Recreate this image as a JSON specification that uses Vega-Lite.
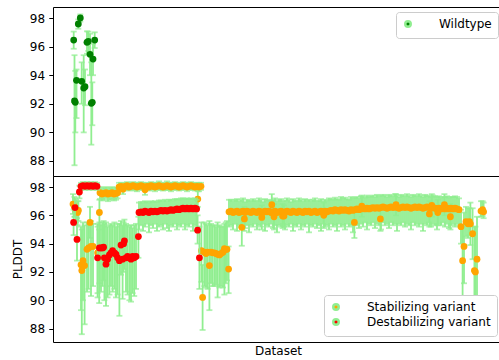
{
"$schema": "https://vega.github.io/schema/vega-lite/v6.json",
"padding": {"left": 10, "top": 6, "right": 0, "bottom": 0},
"spacing": 0,
"bounds": "flush",
"config": {
 "font": "DejaVu Sans",
 "view": {"stroke": "#000000", "strokeWidth": 1},
 "axis": {"domain": false, "grid": false, "labelFont": "DejaVu Sans", "labelFontSize": 12, "labelColor": "#000000", "tickColor": "#000000", "tickWidth": 1, "tickSize": 4.2, "labelPadding": 4.2, "titleFont": "DejaVu Sans", "titleFontSize": 12, "titleFontWeight": "normal", "titleColor": "#000000"},
 "legend": {"labelFont": "DejaVu Sans", "labelFontSize": 12, "labelColor": "#000000", "fillColor": "#ffffff", "strokeColor": "#cccccc", "cornerRadius": 3, "padding": 6, "rowPadding": -1, "symbolType": "circle", "symbolSize": 30, "symbolStrokeColor": "#90ee90", "symbolStrokeWidth": 2.5, "labelOffset": 25, "offset": 5}
},
"datasets": {
 "w": [
  {"x":0.35,"y":96.46,"l":95.85,"h":97.05},
  {"x":0.75,"y":92.2,"l":87.7,"h":95.4},
  {"x":1.15,"y":92.1,"l":90.0,"h":94.3},
  {"x":1.75,"y":93.64,"l":91.0,"h":94.4},
  {"x":2.65,"y":97.58,"l":97.25,"h":97.9},
  {"x":3.65,"y":98.0,"l":97.75,"h":98.25},
  {"x":4.35,"y":93.57,"l":92.0,"h":94.9},
  {"x":5.35,"y":93.1,"l":90.0,"h":95.4},
  {"x":6.0,"y":93.2,"l":91.9,"h":94.4},
  {"x":7.0,"y":96.3,"l":95.5,"h":97.07},
  {"x":7.65,"y":96.37,"l":95.7,"h":97.05},
  {"x":8.5,"y":95.46,"l":94.0,"h":96.9},
  {"x":9.15,"y":92.03,"l":89.14,"h":94.9},
  {"x":9.65,"y":92.1,"l":90.5,"h":93.5},
  {"x":10.0,"y":95.13,"l":94.0,"h":96.2},
  {"x":10.85,"y":96.46,"l":95.9,"h":97.0}
 ],
 "s": [
  {"x":0,"y":96.8,"l":96.1,"h":97.5},
  {"x":0.7,"y":96.6,"l":95.9,"h":97.3},
  {"x":1.5,"y":96.3,"l":95.5,"h":97.1},
  {"x":2.3,"y":96.2,"l":95.3,"h":97.0},
  {"x":2.7,"y":96.35,"l":95.6,"h":97.0},
  {"x":4,"y":92.5,"l":89.3,"h":95.2},
  {"x":4.4,"y":92.1,"l":87.6,"h":95.0},
  {"x":5,"y":92.8,"l":90.0,"h":95.5},
  {"x":5.8,"y":92.45,"l":88.3,"h":95.3},
  {"x":7,"y":93.6,"l":90.6,"h":95.5},
  {"x":7.8,"y":93.7,"l":90.8,"h":95.3},
  {"x":8.5,"y":95.5,"l":94.4,"h":96.6},
  {"x":9,"y":93.8,"l":90.3,"h":95.6},
  {"x":10,"y":93.8,"l":91.0,"h":95.4},
  {"x":12.3,"y":93.35,"l":90.2,"h":95.2},
  {"x":13.1,"y":93.1,"l":89.8,"h":95.0},
  {"x":13.2,"y":96.2,"l":95.3,"h":97.1},
  {"x":13.5,"y":97.6,"l":97.15,"h":98.0},
  {"x":14.5,"y":97.5,"l":97.05,"h":97.9},
  {"x":15.5,"y":97.55,"l":97.1,"h":97.95},
  {"x":16.5,"y":97.6,"l":97.2,"h":98.0},
  {"x":17.5,"y":97.5,"l":97.0,"h":97.9},
  {"x":18.5,"y":97.55,"l":97.1,"h":97.95},
  {"x":19.5,"y":97.6,"l":97.15,"h":98.0},
  {"x":20.5,"y":97.5,"l":97.05,"h":97.9},
  {"x":21.5,"y":97.55,"l":97.1,"h":97.95},
  {"x":22.3,"y":97.6,"l":97.2,"h":97.95},
  {"x":23,"y":98.0,"l":97.7,"h":98.3},
  {"x":24,"y":98.05,"l":97.8,"h":98.3},
  {"x":25,"y":97.85,"l":97.5,"h":98.2},
  {"x":26,"y":98.05,"l":97.8,"h":98.3},
  {"x":27,"y":98.1,"l":97.85,"h":98.35},
  {"x":28,"y":98.0,"l":97.75,"h":98.25},
  {"x":29,"y":98.05,"l":97.8,"h":98.3},
  {"x":30,"y":98.1,"l":97.85,"h":98.35},
  {"x":31,"y":98.05,"l":97.75,"h":98.3},
  {"x":32,"y":98.0,"l":97.7,"h":98.3},
  {"x":33,"y":98.05,"l":97.8,"h":98.3},
  {"x":34,"y":98.1,"l":97.85,"h":98.35},
  {"x":35,"y":98.05,"l":97.8,"h":98.3},
  {"x":36,"y":97.8,"l":97.45,"h":98.15},
  {"x":37,"y":98.05,"l":97.8,"h":98.3},
  {"x":38,"y":98.0,"l":97.75,"h":98.25},
  {"x":39,"y":98.1,"l":97.85,"h":98.35},
  {"x":40,"y":98.05,"l":97.8,"h":98.3},
  {"x":41,"y":98.0,"l":97.7,"h":98.3},
  {"x":42,"y":98.05,"l":97.8,"h":98.3},
  {"x":43,"y":98.1,"l":97.85,"h":98.4},
  {"x":44,"y":98.05,"l":97.8,"h":98.3},
  {"x":45,"y":98.0,"l":97.75,"h":98.25},
  {"x":46,"y":98.05,"l":97.8,"h":98.3},
  {"x":47,"y":98.1,"l":97.8,"h":98.4},
  {"x":48,"y":98.05,"l":97.8,"h":98.3},
  {"x":49,"y":98.0,"l":97.7,"h":98.3},
  {"x":50,"y":98.05,"l":97.8,"h":98.3},
  {"x":51,"y":98.1,"l":97.85,"h":98.35},
  {"x":52,"y":98.05,"l":97.8,"h":98.3},
  {"x":53,"y":98.0,"l":97.75,"h":98.25},
  {"x":54,"y":98.05,"l":97.8,"h":98.3},
  {"x":55,"y":98.1,"l":97.85,"h":98.35},
  {"x":56,"y":98.05,"l":97.8,"h":98.3},
  {"x":57,"y":98.0,"l":97.7,"h":98.3},
  {"x":58,"y":98.05,"l":97.8,"h":98.3},
  {"x":59,"y":98.1,"l":97.85,"h":98.35},
  {"x":60,"y":98.05,"l":97.8,"h":98.3},
  {"x":61,"y":98.0,"l":97.75,"h":98.25},
  {"x":62,"y":98.05,"l":97.8,"h":98.3},
  {"x":62.4,"y":97.15,"l":96.6,"h":97.7},
  {"x":63,"y":98.0,"l":97.7,"h":98.3},
  {"x":64,"y":98.05,"l":97.8,"h":98.3},
  {"x":64.2,"y":93.5,"l":91.3,"h":95.5},
  {"x":64.8,"y":90.2,"l":87.9,"h":92.5},
  {"x":65.7,"y":93.4,"l":91.0,"h":95.5},
  {"x":66.5,"y":93.3,"l":90.9,"h":95.4},
  {"x":67.3,"y":93.4,"l":90.8,"h":95.3},
  {"x":68.2,"y":92.45,"l":89.3,"h":95.6},
  {"x":69,"y":93.4,"l":91.2,"h":95.4},
  {"x":69.8,"y":93.35,"l":91.0,"h":95.3},
  {"x":70.7,"y":93.35,"l":91.0,"h":95.3},
  {"x":71.5,"y":93.3,"l":91.1,"h":95.2},
  {"x":72.3,"y":93.25,"l":90.2,"h":95.5},
  {"x":73.2,"y":93.2,"l":90.9,"h":95.3},
  {"x":74,"y":93.3,"l":91.0,"h":95.2},
  {"x":75,"y":93.4,"l":90.9,"h":95.2},
  {"x":75.7,"y":93.65,"l":90.4,"h":95.4},
  {"x":76.4,"y":93.6,"l":91.2,"h":95.5},
  {"x":77,"y":93.6,"l":91.4,"h":95.6},
  {"x":77.8,"y":92.2,"l":90.5,"h":93.8},
  {"x":78,"y":96.25,"l":95.2,"h":97.1},
  {"x":79,"y":96.3,"l":95.3,"h":97.1},
  {"x":80,"y":96.2,"l":95.0,"h":97.0},
  {"x":81,"y":96.25,"l":95.4,"h":97.1},
  {"x":82,"y":96.3,"l":94.9,"h":97.15},
  {"x":83,"y":96.2,"l":95.3,"h":97.0},
  {"x":84,"y":96.25,"l":95.2,"h":97.1},
  {"x":84.4,"y":95.15,"l":93.85,"h":96.45},
  {"x":85,"y":96.3,"l":95.4,"h":97.2},
  {"x":85.7,"y":95.75,"l":94.9,"h":96.6},
  {"x":86,"y":96.2,"l":95.1,"h":96.95},
  {"x":87,"y":96.3,"l":95.3,"h":97.1},
  {"x":88,"y":96.25,"l":94.8,"h":97.05},
  {"x":89,"y":96.2,"l":95.3,"h":97.0},
  {"x":90,"y":96.3,"l":95.2,"h":97.15},
  {"x":91,"y":96.25,"l":95.4,"h":97.05},
  {"x":92,"y":96.2,"l":95.0,"h":97.0},
  {"x":93,"y":96.3,"l":95.3,"h":97.2},
  {"x":94,"y":96.25,"l":95.2,"h":97.1},
  {"x":94.4,"y":95.85,"l":95.0,"h":96.7},
  {"x":95,"y":96.2,"l":95.4,"h":96.95},
  {"x":96,"y":96.3,"l":94.9,"h":97.15},
  {"x":97,"y":96.25,"l":95.3,"h":97.1},
  {"x":98,"y":96.3,"l":95.2,"h":97.05},
  {"x":99,"y":96.2,"l":95.4,"h":97.0},
  {"x":99.4,"y":96.75,"l":96.0,"h":97.5},
  {"x":100,"y":96.25,"l":95.1,"h":97.1},
  {"x":100.5,"y":95.9,"l":95.0,"h":96.8},
  {"x":101,"y":96.3,"l":95.3,"h":97.2},
  {"x":102,"y":96.2,"l":94.8,"h":97.0},
  {"x":103,"y":96.25,"l":95.3,"h":97.1},
  {"x":104,"y":96.3,"l":95.2,"h":97.15},
  {"x":104.8,"y":95.95,"l":95.1,"h":96.8},
  {"x":105,"y":96.2,"l":95.4,"h":97.0},
  {"x":105.5,"y":95.95,"l":95.2,"h":96.7},
  {"x":106,"y":96.25,"l":95.0,"h":97.05},
  {"x":107,"y":96.3,"l":95.3,"h":97.2},
  {"x":108,"y":96.25,"l":95.2,"h":97.1},
  {"x":109,"y":96.2,"l":95.4,"h":96.95},
  {"x":110,"y":96.3,"l":94.9,"h":97.15},
  {"x":111,"y":96.25,"l":95.3,"h":97.05},
  {"x":112,"y":96.2,"l":95.2,"h":97.0},
  {"x":113,"y":96.3,"l":95.4,"h":97.2},
  {"x":114,"y":96.25,"l":95.0,"h":97.1},
  {"x":115,"y":96.2,"l":95.3,"h":97.0},
  {"x":116,"y":96.3,"l":95.2,"h":97.15},
  {"x":117,"y":96.25,"l":95.4,"h":97.05},
  {"x":118,"y":96.3,"l":94.8,"h":97.1},
  {"x":119,"y":96.2,"l":95.3,"h":97.0},
  {"x":120,"y":96.25,"l":95.2,"h":97.1},
  {"x":121,"y":96.3,"l":95.4,"h":97.2},
  {"x":122,"y":96.2,"l":95.1,"h":97.0},
  {"x":123,"y":96.25,"l":95.3,"h":97.05},
  {"x":124,"y":96.3,"l":94.9,"h":97.15},
  {"x":125,"y":96.2,"l":95.4,"h":97.0},
  {"x":125.4,"y":96.0,"l":95.1,"h":96.9},
  {"x":126,"y":96.3,"l":95.2,"h":97.1},
  {"x":127,"y":96.25,"l":95.3,"h":97.05},
  {"x":128,"y":96.3,"l":95.0,"h":97.2},
  {"x":129,"y":96.35,"l":95.4,"h":97.15},
  {"x":130,"y":96.3,"l":95.2,"h":97.1},
  {"x":131,"y":96.4,"l":95.3,"h":97.25},
  {"x":132,"y":96.35,"l":94.9,"h":97.15},
  {"x":133,"y":96.3,"l":95.4,"h":97.1},
  {"x":134,"y":96.4,"l":95.2,"h":97.3},
  {"x":135,"y":96.35,"l":95.3,"h":97.2},
  {"x":136,"y":96.4,"l":95.0,"h":97.25},
  {"x":137,"y":96.35,"l":95.4,"h":97.15},
  {"x":138,"y":96.3,"l":95.2,"h":97.1},
  {"x":139,"y":96.4,"l":95.3,"h":97.3},
  {"x":140,"y":96.35,"l":94.8,"h":97.2},
  {"x":140.7,"y":95.5,"l":94.4,"h":96.6},
  {"x":141,"y":96.4,"l":95.4,"h":97.25},
  {"x":142,"y":96.45,"l":95.3,"h":97.3},
  {"x":143,"y":96.4,"l":95.1,"h":97.2},
  {"x":144,"y":96.45,"l":95.4,"h":97.35},
  {"x":144.4,"y":96.65,"l":95.9,"h":97.4},
  {"x":145,"y":96.5,"l":95.2,"h":97.3},
  {"x":146,"y":96.45,"l":95.5,"h":97.25},
  {"x":147,"y":96.5,"l":95.0,"h":97.4},
  {"x":148,"y":96.45,"l":95.4,"h":97.3},
  {"x":149,"y":96.5,"l":95.3,"h":97.35},
  {"x":150,"y":96.55,"l":95.5,"h":97.4},
  {"x":151,"y":96.5,"l":95.1,"h":97.3},
  {"x":152,"y":96.55,"l":95.4,"h":97.45},
  {"x":153,"y":96.5,"l":95.3,"h":97.35},
  {"x":153.7,"y":95.75,"l":94.9,"h":96.6},
  {"x":154,"y":96.55,"l":95.0,"h":97.4},
  {"x":155,"y":96.6,"l":95.5,"h":97.45},
  {"x":156,"y":96.55,"l":95.3,"h":97.4},
  {"x":157,"y":96.5,"l":95.4,"h":97.3},
  {"x":158,"y":96.55,"l":95.1,"h":97.45},
  {"x":159,"y":96.6,"l":95.5,"h":97.4},
  {"x":160,"y":96.55,"l":95.3,"h":97.35},
  {"x":161,"y":96.6,"l":95.4,"h":97.5},
  {"x":161.5,"y":96.75,"l":96.0,"h":97.5},
  {"x":162,"y":96.55,"l":94.9,"h":97.4},
  {"x":163,"y":96.5,"l":95.4,"h":97.3},
  {"x":164,"y":96.55,"l":95.3,"h":97.45},
  {"x":165,"y":96.6,"l":95.5,"h":97.4},
  {"x":166,"y":96.55,"l":95.2,"h":97.35},
  {"x":167,"y":96.6,"l":95.4,"h":97.5},
  {"x":168,"y":96.55,"l":95.3,"h":97.4},
  {"x":169,"y":96.5,"l":95.0,"h":97.3},
  {"x":170,"y":96.55,"l":95.5,"h":97.45},
  {"x":171,"y":96.6,"l":95.3,"h":97.4},
  {"x":172,"y":96.55,"l":95.4,"h":97.35},
  {"x":173,"y":96.6,"l":95.2,"h":97.5},
  {"x":174,"y":96.55,"l":95.4,"h":97.4},
  {"x":175,"y":96.5,"l":94.9,"h":97.3},
  {"x":176,"y":96.55,"l":95.4,"h":97.45},
  {"x":177,"y":96.6,"l":95.3,"h":97.4},
  {"x":178,"y":96.55,"l":95.5,"h":97.35},
  {"x":178.2,"y":96.1,"l":95.2,"h":97.0},
  {"x":179,"y":96.5,"l":95.2,"h":97.3},
  {"x":179.4,"y":96.7,"l":95.9,"h":97.5},
  {"x":180,"y":96.55,"l":95.4,"h":97.4},
  {"x":181,"y":96.5,"l":95.3,"h":97.35},
  {"x":182,"y":96.45,"l":95.0,"h":97.3},
  {"x":182.4,"y":96.2,"l":95.3,"h":97.1},
  {"x":183,"y":96.5,"l":95.4,"h":97.35},
  {"x":184,"y":96.45,"l":95.3,"h":97.25},
  {"x":185,"y":96.5,"l":95.5,"h":97.3},
  {"x":185.7,"y":96.75,"l":96.0,"h":97.5},
  {"x":186,"y":96.45,"l":95.2,"h":97.3},
  {"x":187,"y":96.5,"l":95.4,"h":97.35},
  {"x":188,"y":96.45,"l":95.1,"h":97.25},
  {"x":188.7,"y":95.9,"l":95.0,"h":96.8},
  {"x":189,"y":96.5,"l":95.3,"h":97.3},
  {"x":190,"y":96.45,"l":95.4,"h":97.3},
  {"x":191,"y":96.5,"l":95.2,"h":97.35},
  {"x":192,"y":96.45,"l":95.4,"h":97.3},
  {"x":193,"y":96.4,"l":95.3,"h":97.2},
  {"x":194,"y":95.2,"l":94.0,"h":96.4},
  {"x":194.8,"y":92.8,"l":90.3,"h":95.3},
  {"x":195.5,"y":93.8,"l":91.2,"h":96.2},
  {"x":196.5,"y":95.55,"l":94.5,"h":96.6},
  {"x":197.5,"y":95.4,"l":94.4,"h":96.5},
  {"x":198.2,"y":95.55,"l":94.6,"h":96.5},
  {"x":198.7,"y":95.4,"l":93.9,"h":96.9},
  {"x":199.8,"y":94.7,"l":92.9,"h":96.5},
  {"x":200.7,"y":92.1,"l":89.0,"h":95.2},
  {"x":201.2,"y":92.0,"l":88.8,"h":95.2},
  {"x":202,"y":92.9,"l":89.9,"h":95.9},
  {"x":204,"y":96.3,"l":95.9,"h":97.0},
  {"x":204.8,"y":96.4,"l":95.95,"h":97.0},
  {"x":205.3,"y":96.25,"l":95.8,"h":96.9}
 ],
 "d": [
  {"x":0.3,"y":95.5,"l":94.6,"h":96.4},
  {"x":1,"y":96.55,"l":95.9,"h":97.2},
  {"x":2,"y":94.3,"l":92.8,"h":95.8},
  {"x":3.2,"y":97.65,"l":97.2,"h":98.1},
  {"x":4,"y":98.05,"l":97.8,"h":98.3},
  {"x":5,"y":98.1,"l":97.85,"h":98.35},
  {"x":6,"y":98.05,"l":97.8,"h":98.3},
  {"x":7,"y":98.1,"l":97.85,"h":98.35},
  {"x":8,"y":98.05,"l":97.8,"h":98.3},
  {"x":9,"y":98.1,"l":97.85,"h":98.35},
  {"x":10,"y":98.05,"l":97.8,"h":98.3},
  {"x":11,"y":98.1,"l":97.85,"h":98.35},
  {"x":12,"y":98.05,"l":97.8,"h":98.3},
  {"x":12.3,"y":93.0,"l":90.5,"h":95.4},
  {"x":13.2,"y":93.7,"l":91.2,"h":95.5},
  {"x":14,"y":93.7,"l":90.6,"h":95.3},
  {"x":14.8,"y":93.7,"l":91.0,"h":95.5},
  {"x":15.3,"y":93.75,"l":91.4,"h":95.6},
  {"x":15.7,"y":93.0,"l":90.0,"h":95.4},
  {"x":16.5,"y":92.55,"l":89.6,"h":95.5},
  {"x":17.3,"y":92.9,"l":90.2,"h":95.2},
  {"x":18.2,"y":93.2,"l":90.4,"h":95.3},
  {"x":19,"y":93.35,"l":91.0,"h":95.4},
  {"x":19.8,"y":93.5,"l":90.6,"h":95.3},
  {"x":20.7,"y":93.35,"l":90.8,"h":95.5},
  {"x":21.5,"y":93.24,"l":90.2,"h":95.2},
  {"x":22.3,"y":93.0,"l":90.4,"h":95.4},
  {"x":23.2,"y":92.8,"l":88.9,"h":95.4},
  {"x":24,"y":93.9,"l":91.8,"h":95.6},
  {"x":24.8,"y":92.9,"l":90.1,"h":95.3},
  {"x":25.3,"y":94.0,"l":92.0,"h":95.5},
  {"x":25.7,"y":94.2,"l":92.2,"h":95.7},
  {"x":26.5,"y":93.0,"l":90.6,"h":95.4},
  {"x":27.3,"y":93.1,"l":90.4,"h":95.3},
  {"x":28.2,"y":93.0,"l":90.0,"h":95.2},
  {"x":29,"y":92.9,"l":89.9,"h":95.3},
  {"x":29.8,"y":93.1,"l":90.5,"h":95.1},
  {"x":30.6,"y":93.0,"l":90.3,"h":95.3},
  {"x":31.5,"y":93.1,"l":90.8,"h":95.4},
  {"x":32.7,"y":94.5,"l":93.0,"h":95.9},
  {"x":33,"y":96.2,"l":95.0,"h":96.9},
  {"x":34,"y":96.25,"l":95.3,"h":96.95},
  {"x":35,"y":96.2,"l":94.9,"h":96.9},
  {"x":36,"y":96.3,"l":95.2,"h":97.0},
  {"x":37,"y":96.25,"l":95.4,"h":96.95},
  {"x":38,"y":96.2,"l":94.8,"h":96.9},
  {"x":39,"y":96.3,"l":95.3,"h":97.0},
  {"x":40,"y":96.25,"l":95.1,"h":96.95},
  {"x":41,"y":96.3,"l":95.4,"h":97.0},
  {"x":42,"y":96.25,"l":94.9,"h":96.95},
  {"x":43,"y":96.3,"l":95.2,"h":97.05},
  {"x":44,"y":96.35,"l":95.3,"h":97.05},
  {"x":45,"y":96.3,"l":95.0,"h":97.0},
  {"x":46,"y":96.35,"l":95.4,"h":97.1},
  {"x":47,"y":96.3,"l":95.1,"h":97.0},
  {"x":48,"y":96.35,"l":94.9,"h":97.1},
  {"x":49,"y":96.4,"l":95.3,"h":97.1},
  {"x":50,"y":96.35,"l":95.2,"h":97.05},
  {"x":51,"y":96.4,"l":95.4,"h":97.15},
  {"x":52,"y":96.45,"l":95.0,"h":97.15},
  {"x":53,"y":96.4,"l":95.3,"h":97.1},
  {"x":54,"y":96.45,"l":95.2,"h":97.2},
  {"x":55,"y":96.5,"l":95.4,"h":97.2},
  {"x":56,"y":96.45,"l":95.0,"h":97.15},
  {"x":57,"y":96.5,"l":95.3,"h":97.2},
  {"x":58,"y":96.45,"l":95.2,"h":97.15},
  {"x":59,"y":96.5,"l":95.4,"h":97.2},
  {"x":60,"y":96.45,"l":94.9,"h":97.15},
  {"x":61,"y":96.5,"l":95.3,"h":97.2},
  {"x":61.8,"y":96.45,"l":95.2,"h":97.1},
  {"x":62.3,"y":94.95,"l":94.0,"h":96.0},
  {"x":63.2,"y":93.0,"l":90.8,"h":95.2}
 ]
},
"vconcat": [
 {
  "width": 450,
  "height": 169,
  "layer": [
   {
    "data": {"name": "w"},
    "mark": {"type": "errorbar", "ticks": true, "size": 6, "thickness": 1.8, "color": "#90ee90"},
    "encoding": {
     "x": {"field": "x", "type": "quantitative", "scale": {"domain": [-10, 215], "nice": false, "zero": false}, "axis": null},
     "y": {"field": "l", "type": "quantitative", "scale": {"domain": [86.95, 98.77], "nice": false, "zero": false}, "axis": {"values": [88, 90, 92, 94, 96, 98], "title": null}},
     "y2": {"field": "h"}
    }
   },
   {
    "data": {"name": "w"},
    "mark": {"type": "circle", "size": 46, "opacity": 1},
    "encoding": {
     "x": {"field": "x", "type": "quantitative", "scale": {"domain": [-10, 215], "nice": false, "zero": false}, "axis": null},
     "y": {"field": "y", "type": "quantitative", "scale": {"domain": [86.95, 98.77], "nice": false, "zero": false}, "axis": {"values": [88, 90, 92, 94, 96, 98], "title": null}},
     "color": {"datum": "Wildtype", "scale": {"domain": ["Wildtype"], "range": ["#008000"]}, "legend": {"title": null, "orient": "top-right"}}
    }
   }
  ]
 },
 {
  "width": 450,
  "height": 166,
  "layer": [
   {
    "data": {"name": "s"},
    "mark": {"type": "errorbar", "ticks": true, "size": 6, "thickness": 1.8, "color": "#90ee90"},
    "encoding": {
     "x": {"field": "x", "type": "quantitative", "scale": {"domain": [-10, 215], "nice": false, "zero": false}, "axis": {"title": "Dataset", "labels": false, "ticks": false, "titlePadding": 3}},
     "y": {"field": "l", "type": "quantitative", "scale": {"domain": [87.05, 98.78], "nice": false, "zero": false}, "axis": {"values": [88, 90, 92, 94, 96, 98], "title": "PLDDT", "titlePadding": 5}},
     "y2": {"field": "h"}
    }
   },
   {
    "data": {"name": "s"},
    "mark": {"type": "circle", "size": 46, "opacity": 1},
    "encoding": {
     "x": {"field": "x", "type": "quantitative", "scale": {"domain": [-10, 215], "nice": false, "zero": false}, "axis": {"title": "Dataset", "labels": false, "ticks": false, "titlePadding": 3}},
     "y": {"field": "y", "type": "quantitative", "scale": {"domain": [87.05, 98.78], "nice": false, "zero": false}, "axis": {"values": [88, 90, 92, 94, 96, 98], "title": "PLDDT", "titlePadding": 5}},
     "color": {"datum": "Stabilizing variant", "scale": {"domain": ["Stabilizing variant", "Destabilizing variant"], "range": ["#ffa500", "#ff0000"]}, "legend": {"title": null, "orient": "bottom-right", "offset": 6}}
    }
   },
   {
    "data": {"name": "d"},
    "mark": {"type": "errorbar", "ticks": true, "size": 6, "thickness": 1.8, "color": "#90ee90"},
    "encoding": {
     "x": {"field": "x", "type": "quantitative", "scale": {"domain": [-10, 215], "nice": false, "zero": false}, "axis": {"title": "Dataset", "labels": false, "ticks": false, "titlePadding": 3}},
     "y": {"field": "l", "type": "quantitative", "scale": {"domain": [87.05, 98.78], "nice": false, "zero": false}, "axis": {"values": [88, 90, 92, 94, 96, 98], "title": "PLDDT", "titlePadding": 5}},
     "y2": {"field": "h"}
    }
   },
   {
    "data": {"name": "d"},
    "mark": {"type": "circle", "size": 46, "opacity": 1},
    "encoding": {
     "x": {"field": "x", "type": "quantitative", "scale": {"domain": [-10, 215], "nice": false, "zero": false}, "axis": {"title": "Dataset", "labels": false, "ticks": false, "titlePadding": 3}},
     "y": {"field": "y", "type": "quantitative", "scale": {"domain": [87.05, 98.78], "nice": false, "zero": false}, "axis": {"values": [88, 90, 92, 94, 96, 98], "title": "PLDDT", "titlePadding": 5}},
     "color": {"datum": "Destabilizing variant", "scale": {"domain": ["Stabilizing variant", "Destabilizing variant"], "range": ["#ffa500", "#ff0000"]}, "legend": {"title": null, "orient": "bottom-right", "offset": 6}}
    }
   }
  ]
 }
],
"resolve": {"scale": {"color": "independent"}, "legend": {"color": "independent"}}
}
